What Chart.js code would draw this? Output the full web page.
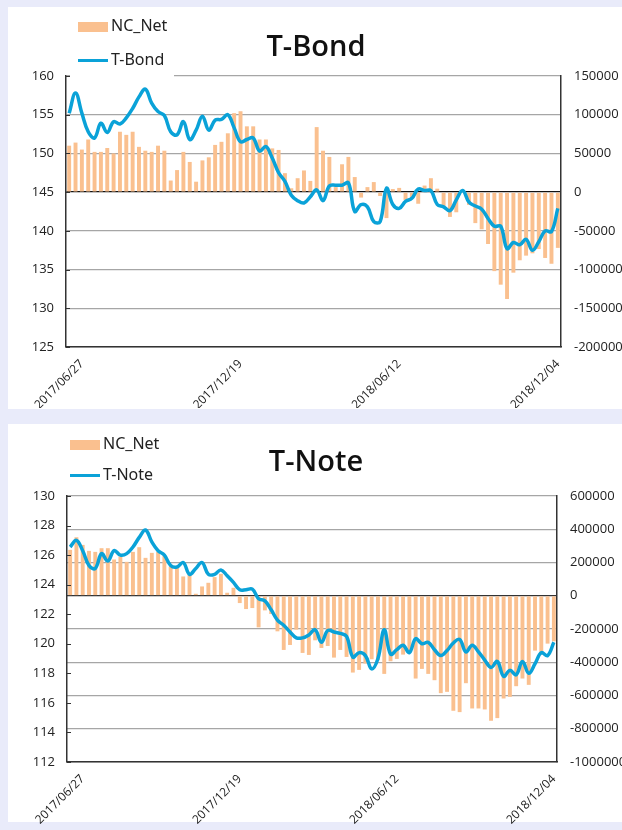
<!DOCTYPE html>
<html>
<head>
<meta charset="utf-8">
<script src="https://cdn.jsdelivr.net/npm/chart.js@4.4.1/dist/chart.umd.min.js"></script>
<style>
  html, body { margin: 0; padding: 0; }
  body {
    width: 622px; height: 830px; overflow: hidden; position: relative;
    background: #e9ebfa; font-family: "Noto Sans", sans-serif; color: #111;
  }
  .panel { position: absolute; left: 8px; width: 614px; background: #fff; }
  canvas { position: absolute; left: 8px; }
  .title {
    position: absolute; left: 8px; width: 616px; text-align: center;
    font-family: "Open Sans", sans-serif; font-weight: 600; font-size: 29px; line-height: 30px;
  }
  .legend { position: absolute; background: #fff; }
  .legend .item { position: absolute; left: 8px; font-size: 16px; line-height: 18px; color: #222; white-space: nowrap; }
  .legend .sw { display: inline-block; width: 30px; vertical-align: middle; margin-right: 3px; }
</style>
</head>
<body>
<div class="panel" style="top:7px;height:402px"></div>
<div class="panel" style="top:424px;height:398px"></div>

<canvas id="bond" width="680" height="400" style="top:8px"></canvas>
<canvas id="note" width="680" height="406" style="top:424px"></canvas>

<div class="title" style="top:30px">T-Bond</div>
<div class="legend" style="left:70px;top:12px;width:104px;height:66px">
  <div class="item" style="top:4px"><span class="sw" style="height:10px;background:#fac08f"></span>NC_Net</div>
  <div class="item" style="top:38px"><span class="sw" style="height:3px;background:#0aa2d8"></span>T-Bond</div>
</div>

<div class="title" style="top:445px">T-Note</div>
<div class="legend" style="left:62px;top:430px;width:104px;height:60px">
  <div class="item" style="top:4px"><span class="sw" style="height:10px;background:#fac08f"></span>NC_Net</div>
  <div class="item" style="top:35px"><span class="sw" style="height:3px;background:#0aa2d8"></span>T-Note</div>
</div>

<script>
// weekly report dates
const dates = [
  "2017/06/13","2017/06/20","2017/06/27","2017/07/04","2017/07/11","2017/07/18","2017/07/25","2017/08/01",
  "2017/08/08","2017/08/15","2017/08/22","2017/08/29","2017/09/05","2017/09/12","2017/09/19","2017/09/26",
  "2017/10/03","2017/10/10","2017/10/17","2017/10/24","2017/10/31","2017/11/07","2017/11/14","2017/11/21",
  "2017/11/28","2017/12/05","2017/12/12","2017/12/19","2017/12/26","2018/01/02","2018/01/09","2018/01/16",
  "2018/01/23","2018/01/30","2018/02/06","2018/02/13","2018/02/20","2018/02/27","2018/03/06","2018/03/13",
  "2018/03/20","2018/03/27","2018/04/03","2018/04/10","2018/04/17","2018/04/24","2018/05/01","2018/05/08",
  "2018/05/15","2018/05/22","2018/05/29","2018/06/05","2018/06/12","2018/06/19","2018/06/26","2018/07/03",
  "2018/07/10","2018/07/17","2018/07/24","2018/07/31","2018/08/07","2018/08/14","2018/08/21","2018/08/28",
  "2018/09/04","2018/09/11","2018/09/18","2018/09/25","2018/10/02","2018/10/09","2018/10/16","2018/10/23",
  "2018/10/30","2018/11/06","2018/11/13","2018/11/20","2018/11/27","2018/12/04"
];
// only these dates get a label on the x axis
const labeledDates = ["2017/06/27", "2017/12/19", "2018/06/12", "2018/12/04"];

// T-Bond
const bondNet = [
  60000, 64000, 55000, 68000, 52000, 52000, 57000, 50000, 78000, 74000,
  78000, 58500, 53500, 52000, 60000, 53500, 15000, 28500, 52000, 39000,
  13500, 41000, 45000, 61000, 65000, 76000, 102000, 104500, 85000, 85000,
  68000, 68000, 56500, 54500, 24500, 5000, 18000, 28000, 14500, 84000,
  53500, 45500, 6500, 36000, 45500, 19500, -7000, 6500, 13000, -5000,
  -33500, 4000, 5500, -10000, -7500, -15000, 8500, 18000, 4500, -18500,
  -32000, -26000, 2000, -16500, -40000, -48000, -67000, -102000, -119500, -138000,
  -104000, -88000, -82000, -79000, -73500, -85000, -92500, -72000
];
const bondPrice = [
  155.2, 157.8, 155.2, 152.8, 152.0, 153.9, 152.7, 154.1, 153.8, 154.6,
  155.8, 157.3, 158.3, 156.5, 155.4, 154.9, 152.8, 152.4, 154.1, 151.8,
  153.0, 154.8, 153.0, 154.3, 154.4, 155.0, 153.3, 151.5, 151.8, 152.0,
  150.3, 150.9, 149.4, 147.5, 146.4, 144.6, 143.9, 143.6, 144.4, 145.3,
  143.9, 145.8, 145.9, 145.9, 146.2, 142.5, 143.4, 143.1, 141.2, 141.2,
  145.5, 143.4, 142.9, 143.8, 144.2, 145.4, 145.2, 145.2, 143.4, 143.1,
  142.6, 144.0, 145.2, 143.7, 143.2, 142.8, 141.6, 140.6, 140.6, 137.7,
  138.5, 138.2, 138.9, 137.5, 138.6, 140.0, 139.9, 142.9
];

// T-Note
const noteNet = [
  276000, 352000, 306000, 270000, 264000, 286000, 286000, 218000, 236000, 204000,
  264000, 292000, 228000, 258000, 264000, 240000, 176000, 172000, 116000, 130000,
  12000, 56000, 78000, 112000, 132000, 18000, 48000, -44000, -80000, -74000,
  -190000, -88000, -110000, -214000, -326000, -296000, -204000, -344000, -356000, -268000,
  -314000, -302000, -372000, -326000, -368000, -462000, -446000, -408000, -382000, -388000,
  -470000, -394000, -380000, -354000, -344000, -498000, -440000, -470000, -508000, -586000,
  -578000, -692000, -700000, -526000, -678000, -678000, -684000, -752000, -736000, -618000,
  -608000, -544000, -498000, -536000, -330000, -354000, -288000, -274000
];
const notePrice = [
  126.55, 127.0, 126.3, 125.3, 125.1, 126.1, 125.6, 126.3, 126.0, 126.1,
  126.55, 127.2, 127.7, 126.9, 126.3, 126.0, 125.3, 125.2, 125.5, 124.7,
  125.1, 125.5, 124.7, 124.7, 125.0, 124.6, 124.15, 123.66, 123.66, 123.7,
  123.05, 122.9, 122.3, 121.6, 121.25, 120.8, 120.4, 120.4, 120.6, 120.95,
  120.1, 120.9, 120.8, 120.7, 120.5, 119.1, 119.4, 119.2, 118.3, 119.0,
  120.95, 119.3, 119.6, 119.9, 119.4, 120.35, 120.0, 120.1, 119.6, 119.2,
  119.55, 120.05, 120.3, 119.45, 119.9, 119.45, 118.9, 118.4, 118.8, 117.8,
  118.2, 117.9, 118.8, 118.0, 118.65, 119.4, 119.2, 120.1
];

const BAR = "#fac08f";
const LINE = "#0aa2d8";
const tickFont = { family: "Open Sans", size: 13 };

// short tick marks on the inside of the left axis (excel style)
const innerTicks = {
  id: "innerTicks",
  afterDatasetsDraw(chart) {
    const s = chart.scales.y;
    const ctx = chart.ctx;
    ctx.save();
    ctx.strokeStyle = "#333";
    ctx.lineWidth = 1;
    s.ticks.forEach(t => {
      const py = Math.round(s.getPixelForValue(t.value)) + 0.5;
      ctx.beginPath();
      ctx.moveTo(s.right, py);
      ctx.lineTo(s.right + 4, py);
      ctx.stroke();
    });
    ctx.restore();
  }
};

function makeChart(id, cfg) {
  const ctx = document.getElementById(id).getContext("2d");
  return new Chart(ctx, {
    type: "bar",
    data: {
      labels: dates,
      datasets: [
        {
          type: "line",
          label: cfg.lineName,
          data: cfg.price,
          yAxisID: "y",
          borderColor: LINE,
          borderWidth: 3.5,
          pointRadius: 0,
          tension: 0.4,
          order: 0
        },
        {
          type: "bar",
          label: "NC_Net",
          data: cfg.net,
          yAxisID: "y1",
          backgroundColor: BAR,
          categoryPercentage: 1,
          barPercentage: 0.62,
          order: 1
        }
      ]
    },
    options: {
      responsive: false,
      devicePixelRatio: 1,
      animation: false,
      layout: { padding: { top: cfg.padTop, left: 0, right: 0, bottom: 0 } },
      plugins: {
        legend: { display: false },
        tooltip: { enabled: false },
        title: { display: false }
      },
      scales: {
        x: {
          offset: true,
          grid: { display: false },
          border: { color: "#333", width: 1.5 },
          ticks: {
            autoSkip: false,
            minRotation: 45,
            maxRotation: 45,
            padding: 2,
            font: { family: "Open Sans", size: 12 },
            color: "#222",
            callback: (v, i) => labeledDates.includes(dates[i]) ? dates[i] : ""
          },
          afterFit: s => { s.height = cfg.xHeight; }
        },
        y: {
          position: "left",
          min: cfg.yMin, max: cfg.yMax,
          ticks: { stepSize: cfg.yStep, padding: 12, font: tickFont, color: "#222" },
          grid: {
            display: true,
            drawOnChartArea: cfg.gridOn === "y",
            drawTicks: false,
            lineWidth: 1.3,
            color: c => c.tick.value === cfg.yZero ? "#111" : "#a6a6a6"
          },
          border: { color: "#333", width: 1.5 },
          afterFit: s => { s.width = cfg.leftW; }
        },
        y1: {
          position: "right",
          min: cfg.nMin, max: cfg.nMax,
          ticks: {
            stepSize: cfg.nStep, padding: 13, font: tickFont, color: "#222",
            callback: v => String(v)
          },
          grid: {
            display: true,
            drawOnChartArea: cfg.gridOn === "y1",
            drawTicks: false,
            lineWidth: 1.3,
            color: c => c.tick.value === 0 ? "#333" : "#a6a6a6"
          },
          border: { color: "#333", width: 1.5 },
          afterFit: s => { s.width = cfg.rightW; }
        }
      }
    },
    plugins: [innerTicks]
  });
}

makeChart("bond", {
  lineName: "T-Bond", price: bondPrice, net: bondNet,
  yMin: 125, yMax: 160, yStep: 5, yZero: 145,
  nMin: -200000, nMax: 150000, nStep: 50000,
  gridOn: "y", padTop: 68, xHeight: 61, leftW: 58, rightW: 127
});

makeChart("note", {
  lineName: "T-Note", price: notePrice, net: noteNet,
  yMin: 112, yMax: 130, yStep: 2, yZero: null,
  nMin: -1000000, nMax: 600000, nStep: 200000,
  gridOn: "y1", padTop: 72, xHeight: 68, leftW: 59, rightW: 131
});
</script>
</body>
</html>
